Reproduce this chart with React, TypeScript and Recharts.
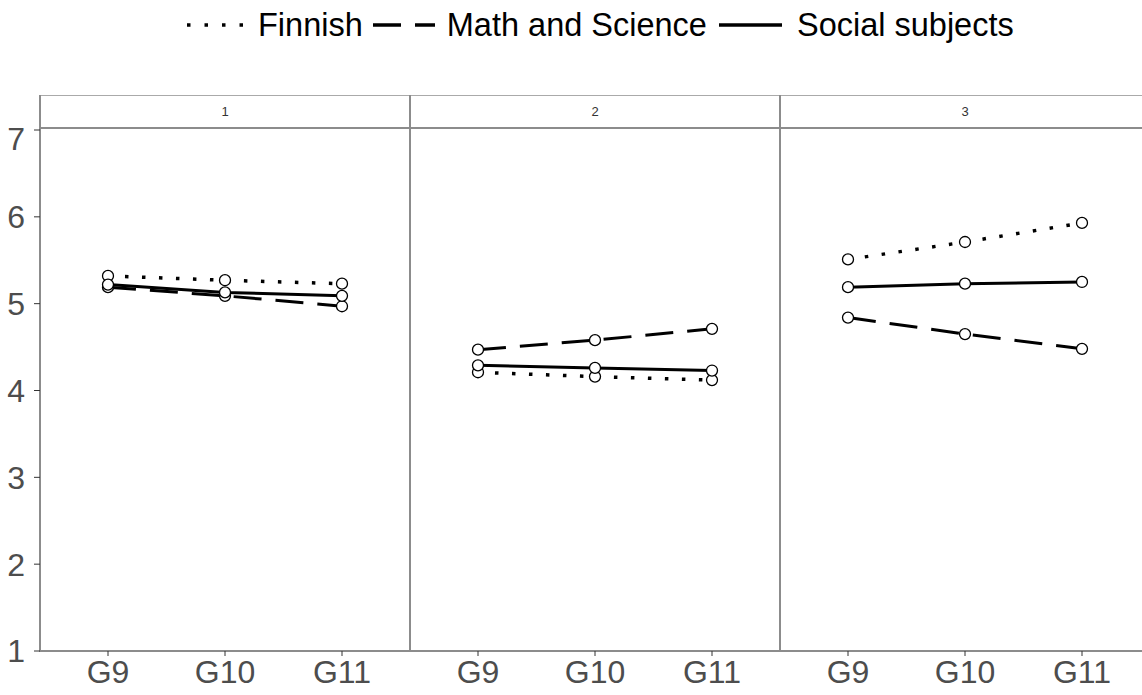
import React from 'react';
import { LineChart, Line, XAxis, YAxis } from 'recharts';

// Valeurs (un tableau par série, une ligne par panneau)
const panels = ['1', '2', '3'];
const grades = ['G9', 'G10', 'G11'];
const yTicks = [1, 2, 3, 4, 5, 6, 7];

const finnish = [
  [5.32, 5.27, 5.23],
  [4.21, 4.16, 4.12],
  [5.51, 5.71, 5.93],
];
const mathScience = [
  [5.19, 5.09, 4.97],
  [4.47, 4.58, 4.71],
  [4.84, 4.65, 4.48],
];
const socialSubjects = [
  [5.22, 5.13, 5.09],
  [4.29, 4.26, 4.23],
  [5.19, 5.23, 5.25],
];

const series = [
  { key: 'finnish', name: 'Finnish', dash: '3.5 13.5', width: 3.5 },
  { key: 'math', name: 'Math and Science', dash: '28 14', width: 3 },
  { key: 'social', name: 'Social subjects', dash: undefined, width: 3 },
];

const FRAME = '#8c8c8c';
const TICK_TEXT = '#4d4d4d';
const PANEL_W = 370;
const PANEL_X0 = 40;

const buildPanelData = (p: number) =>
  grades.map((g, i) => ({
    grade: g,
    finnish: finnish[p][i],
    math: mathScience[p][i],
    social: socialSubjects[p][i],
  }));

const dotStyle = { r: 5.5, fill: '#fff', stroke: '#000', strokeWidth: 1.3, strokeDasharray: 'none' };

const LegendKey: React.FC<{ dash?: string; width: number }> = ({ dash, width }) => (
  <svg width={width} height={10} style={{ display: 'block' }}>
    <line x1={0} y1={5} x2={width} y2={5} stroke="#000" strokeWidth={3.5} strokeDasharray={dash} />
  </svg>
);

const Panel: React.FC<{ index: number }> = ({ index }) => {
  const first = index === 0;
  const data = buildPanelData(index);
  return (
    <div
      style={{
        position: 'absolute',
        left: first ? 0 : PANEL_X0 + PANEL_W * index,
        top: 120,
      }}
    >
      <LineChart
        width={first ? PANEL_X0 + PANEL_W : PANEL_W}
        height={575}
        data={data}
        margin={{ top: 10, right: 0, bottom: 0, left: 0 }}
      >
        <XAxis
          dataKey="grade"
          type="category"
          scale="point"
          padding={{ left: 68, right: 68 }}
          height={44}
          tickSize={5}
          tickMargin={4}
          tick={{ fontSize: 32, fill: TICK_TEXT }}
          tickLine={{ stroke: '#333', strokeWidth: 1 }}
          axisLine={{ stroke: FRAME, strokeWidth: 2 }}
        />
        {first ? (
          <YAxis
            type="number"
            domain={[1, 7]}
            ticks={yTicks}
            width={PANEL_X0}
            tickSize={6}
            tickMargin={9}
            tick={{ fontSize: 32, fill: TICK_TEXT }}
            tickLine={{ stroke: '#333', strokeWidth: 1 }}
            axisLine={false}
            allowDataOverflow
          />
        ) : (
          <YAxis type="number" domain={[1, 7]} hide allowDataOverflow />
        )}
        {series.map((s) => (
          <Line
            key={s.key}
            dataKey={s.key}
            name={s.name}
            type="linear"
            stroke="#000"
            strokeWidth={s.width}
            strokeDasharray={s.dash}
            dot={dotStyle}
            activeDot={false}
            isAnimationActive={false}
          />
        ))}
      </LineChart>
    </div>
  );
};

const App: React.FC = () => {
  return (
    <div
      style={{
        position: 'absolute',
        left: 0,
        top: 0,
        width: 1142,
        height: 695,
        overflow: 'hidden',
        background: '#fff',
        fontFamily: '"Liberation Sans", Arial, sans-serif',
      }}
    >
      {/* Légende */}
      <div
        style={{
          position: 'absolute',
          left: 187,
          top: 9,
          display: 'flex',
          alignItems: 'center',
          fontSize: 32.5,
          lineHeight: '32px',
          color: '#000',
          whiteSpace: 'nowrap',
        }}
      >
        <LegendKey dash="3.5 14" width={58} />
        <span style={{ marginLeft: 13 }}>Finnish</span>
        <span style={{ marginLeft: 10 }}>
          <LegendKey dash="28 14" width={62} />
        </span>
        <span style={{ marginLeft: 12 }}>Math and Science</span>
        <span style={{ marginLeft: 12 }}>
          <LegendKey width={63} />
        </span>
        <span style={{ marginLeft: 15 }}>Social subjects</span>
      </div>

      {/* Bandeaux des panneaux */}
      {panels.map((p, i) => (
        <div
          key={p}
          style={{
            position: 'absolute',
            left: PANEL_X0 + PANEL_W * i,
            top: 95,
            width: PANEL_W,
            height: 34,
            borderTop: '1px solid #aaa',
            borderBottom: `2px solid ${FRAME}`,
            boxSizing: 'border-box',
            fontSize: 13,
            color: '#333',
            textAlign: 'center',
            lineHeight: '32px',
          }}
        >
          {p}
        </div>
      ))}

      {/* Bords verticaux */}
      {[0, 1, 2].map((i) => (
        <div
          key={i}
          style={{
            position: 'absolute',
            left: PANEL_X0 + PANEL_W * i - 1,
            top: 95,
            width: 2,
            height: 557,
            background: FRAME,
          }}
        />
      ))}

      {panels.map((p, i) => (
        <Panel key={p} index={i} />
      ))}
    </div>
  );
};

export default App;
